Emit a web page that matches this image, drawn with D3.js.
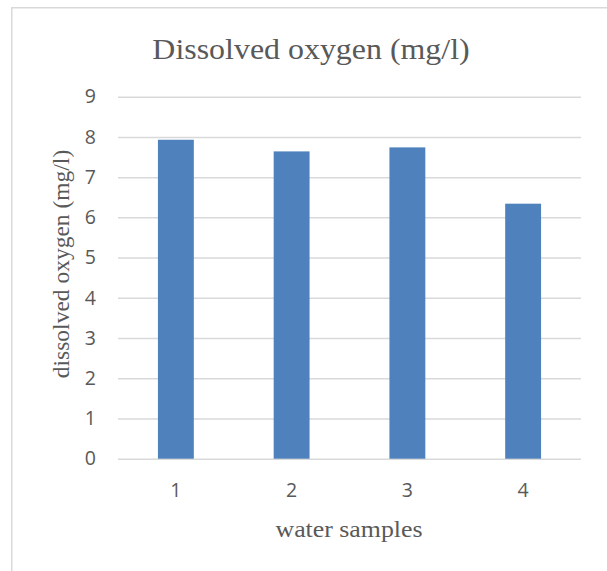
<!DOCTYPE html>
<html>
<head>
<meta charset="utf-8">
<script src="https://cdn.jsdelivr.net/npm/d3@7"></script>
<style>
  html, body { margin: 0; padding: 0; background: #fff; }
  svg { display: block; }
</style>
</head>
<body>
<script>
// Dissolved oxygen per water sample
const samples = ["1", "2", "3", "4"];
const oxygen = [7.93, 7.64, 7.74, 6.34];
const yTicks = [0, 1, 2, 3, 4, 5, 6, 7, 8, 9];

const W = 607, H = 571;
const plot = { left: 118, right: 581, top: 96.7, bottom: 458.7 };

const svg = d3.select("body").append("svg")
  .attr("width", W).attr("height", H);

// chart frame (runs off the right and bottom edges)
svg.append("rect")
  .attr("x", 11.75).attr("y", 7.75)
  .attr("width", 700).attr("height", 700)
  .attr("fill", "#fff")
  .attr("stroke", "#d9d9d9").attr("stroke-width", 1.5);

const x = d3.scaleBand()
  .domain(samples)
  .range([plot.left, plot.right])
  .paddingInner(0.69)
  .paddingOuter(0.345);

const y = d3.scaleLinear()
  .domain([0, 9])
  .range([plot.bottom, plot.top]);

const tickFont = "'Open Sans', sans-serif";

// horizontal gridlines + y tick labels
const yAxis = d3.axisLeft(y)
  .tickValues(yTicks)
  .tickSize(-(plot.right - plot.left))
  .tickPadding(22)
  .tickFormat(d3.format("d"));

const gy = svg.append("g")
  .attr("transform", `translate(${plot.left},0)`)
  .call(yAxis);
gy.select(".domain").remove();
gy.selectAll(".tick line")
  .attr("stroke", "#d9d9d9").attr("stroke-width", 1.5);
gy.selectAll(".tick text")
  .attr("fill", "#595959")
  .style("font-family", tickFont)
  .style("font-size", "19.5px");

// bars
svg.append("g").selectAll("rect")
  .data(samples)
  .join("rect")
  .attr("x", d => x(d))
  .attr("width", x.bandwidth())
  .attr("y", (d, i) => y(oxygen[i]))
  .attr("height", (d, i) => y(0) - y(oxygen[i]))
  .attr("fill", "#4f81bd");

// x tick labels
const xAxis = d3.axisBottom(x).tickSize(0).tickPadding(24);
const gx = svg.append("g")
  .attr("transform", `translate(0,${plot.bottom})`)
  .call(xAxis);
gx.select(".domain").remove();
gx.selectAll(".tick text")
  .attr("fill", "#595959")
  .style("font-family", tickFont)
  .style("font-size", "19.5px");

const serif = "'Liberation Serif', 'Times New Roman', serif";

// chart title
svg.append("text")
  .attr("transform", "translate(311,59) scale(1.12,1)")
  .attr("text-anchor", "middle")
  .attr("fill", "#595959")
  .style("font-family", serif)
  .style("font-size", "28.5px")
  .text("Dissolved oxygen (mg/l)");

// x axis title
svg.append("text")
  .attr("transform", "translate(349,537) scale(1.1,1)")
  .attr("text-anchor", "middle")
  .attr("fill", "#595959")
  .style("font-family", serif)
  .style("font-size", "23.5px")
  .text("water samples");

// y axis title
svg.append("text")
  .attr("transform", "translate(69,264) rotate(-90)")
  .attr("text-anchor", "middle")
  .attr("fill", "#595959")
  .style("font-family", serif)
  .style("font-size", "23.5px")
  .text("dissolved oxygen (mg/l)");
</script>
</body>
</html>
